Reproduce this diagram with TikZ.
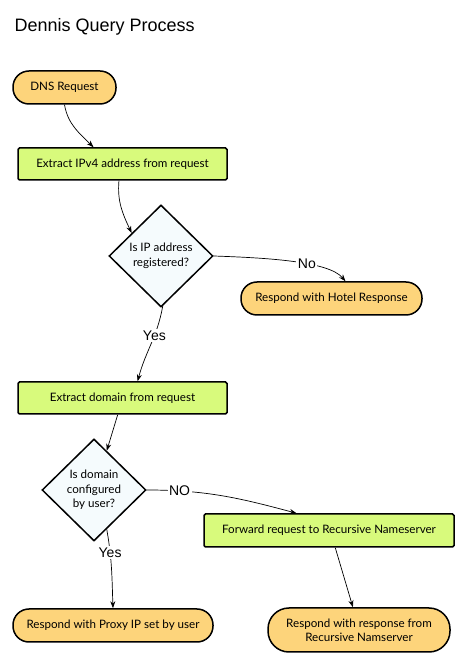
\documentclass[tikz,border=0pt]{standalone}
\usepackage{fontspec}
\setmainfont{Lato}
\newfontfamily\helv{Liberation Sans}
\usetikzlibrary{shapes.geometric,arrows.meta}
\definecolor{termfill}{RGB}{253,212,123}
\definecolor{stepfill}{RGB}{216,250,124}
\definecolor{askfill}{RGB}{245,251,253}
\tikzset{
	terminal/.style={draw=black, line width=1.5pt, fill=termfill, rounded corners=16pt, minimum height=33pt, inner sep=0pt, align=center, font=\fontsize{11.6}{14}\selectfont},
	stepbox/.style={draw=black, line width=1.5pt, fill=stepfill, rounded corners=1.5pt, minimum width=209pt, minimum height=32pt, inner sep=0pt, font=\fontsize{11.6}{14}\selectfont},
	ask/.style={diamond, draw=black, line width=1.5pt, fill=askfill, minimum width=104pt, minimum height=102pt, inner sep=0pt, align=center, font=\fontsize{11.6}{14.5}\selectfont},
	flow/.style={-{Stealth[length=7pt,width=5pt]}, line width=0.7pt},
	tag/.style={fill=white, inner sep=1.5pt, font=\helv\fontsize{14}{16}\selectfont}
}

\begin{document}
\begin{tikzpicture}[x=1pt, y=1pt]
		%%%%% START %%%%%
		\useasboundingbox (0, 0) rectangle (464, 662);
		
		\node[anchor=west, font=\helv\fontsize{18}{20}\selectfont] (title) at (11, 635) {Dennis Query Process};
		
		% start and the first check
		\node[terminal, minimum width=103pt] (dns) at (64.5, 574.5) {DNS Request};
		\node[stepbox] (ipv4) at (122.5, 498) {Extract IPv4 address from request};
		\node[ask] (regq) at (161, 406) {Is IP address\\registered?};
		\node[terminal, minimum width=181pt] (hotel) at (331.5, 363.5) {Respond with Hotel Response};
		
		% second check
		\node[stepbox] (domain) at (122.5, 264) {Extract domain from request};
		\node[ask] (confq) at (94, 172) {Is domain\\configured\\by user?};
		\node[stepbox, minimum width=250pt, minimum height=33pt] (fwd) at (329, 131.5) {Forward request to Recursive Nameserver};
		\node[terminal, minimum width=200pt] (proxy) at (113, 36.5) {Respond with Proxy IP set by user};
		\node[terminal, minimum width=182pt, minimum height=44pt, rounded corners=21pt] (rec) at (359, 32) {Respond with response from\\Recursive Namserver};
		
		% connectors
		\draw[flow] (dns.south) to[out=-80, in=135] (ipv4.150);
		\draw[flow] (ipv4.-102) to[out=-95, in=115] (regq.142);
		\draw[flow] (regq.east) to[out=-2, in=130, in looseness=0.5] node[tag, pos=0.6] {No} (hotel.51);
		\draw[flow] (regq.-88) to[out=-100, in=75] node[tag, pos=0.38] {Yes} (domain.48);
		\draw[flow] (domain.254) -- (confq.72);
		\draw[flow] (confq.east) to[out=0, in=165] node[tag, pos=0.2] {NO} (fwd.152);
		\draw[flow] (confq.-72) to[out=-80, in=92] node[tag, pos=0.28] {Yes} (proxy.north);
		\draw[flow] (fwd.-70) -- (rec.105);
		%%%%% END %%%%%
\end{tikzpicture}
\end{document}
